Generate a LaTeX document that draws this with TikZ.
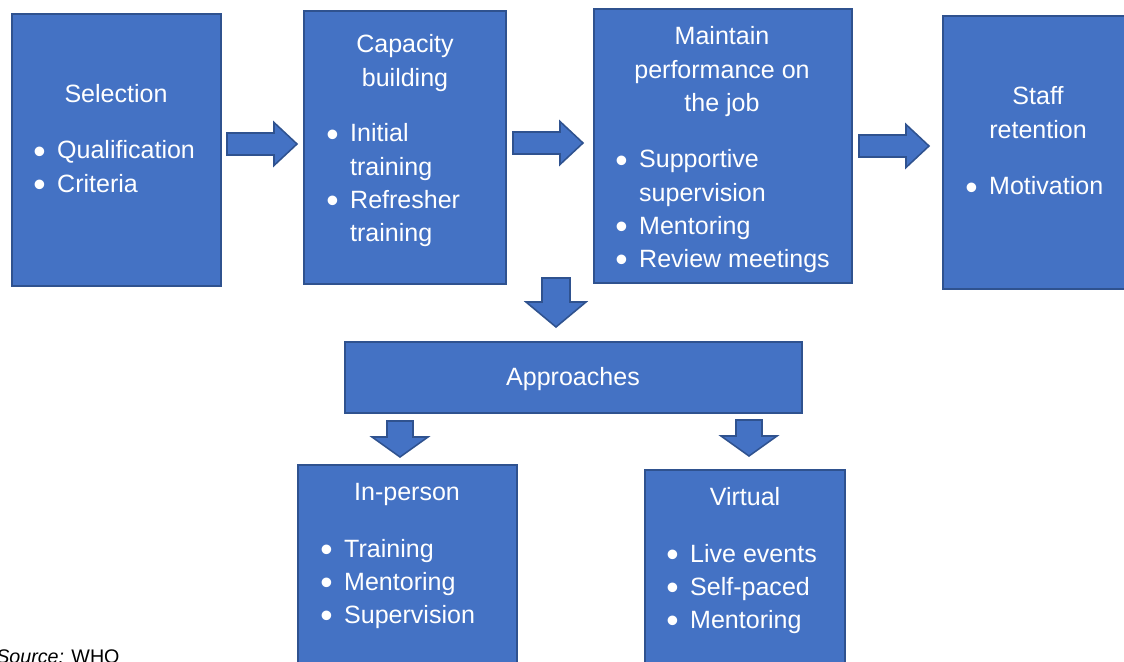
\documentclass[tikz,border=0pt]{standalone}
\usepackage{fontspec}
\setmainfont{Liberation Sans}
\usetikzlibrary{fit}

\definecolor{boxblue}{HTML}{4472C4}
\definecolor{boxline}{HTML}{2F528F}

\newcommand\boxfont{\fontsize{17.8}{23.5}\selectfont}
\newcommand\bul{\makebox[17pt][l]{\raisebox{-3.2pt}{\fontsize{25}{20}\selectfont\textbullet}}}
\newcommand\ind{\hspace*{17pt}}

\tikzset{
  box/.style={draw=boxline, fill=boxblue, line width=1.3pt, inner sep=0pt},
  blk/.style={draw=boxline, fill=boxblue, line width=1.1pt, line join=miter},
  txt/.style={text=white, font=\boxfont, inner sep=0pt, anchor=base},
  lst/.style={txt, anchor=base west},
  pics/rightblk/.style={code={
    \draw[blk] (-35,-11) -- (12,-11) -- (12,-21.5) -- (35,0) -- (12,21.5) -- (12,11) -- (-35,11) -- cycle;}},
  pics/downbig/.style={code={
    \draw[blk] (-14,-24) -- (14,-24) -- (14,0) -- (30,0) -- (0,25) -- (-30,0) -- (-14,0) -- cycle;}},
  pics/downsmall/.style={code={
    \draw[blk] (-13,-18) -- (13,-18) -- (13,-2) -- (28,-2) -- (0,18) -- (-28,-2) -- (-13,-2) -- cycle;}},
}

\begin{document}
\begin{tikzpicture}[x=0.025cm, y=-0.025cm]

\fill[white] (0,0) rectangle (1124,662);
\useasboundingbox (0,0) rectangle (1124,662);

% top row
\node[box, fit={(12,14) (221,286)}] (sel) {};
\node[box, fit={(304,11) (506,284)}] (cap) {};
\node[box, fit={(594,9) (852,283)}] (main) {};
\node[box, fit={(943,16) (1130,289)}] (staff) {};

\node[txt] (selT) at (116,103) {Selection};
\node[lst] (selL) at (33,159) {\begin{tabular}[t]{@{}l@{}}\bul Qualification\\ \bul Criteria\end{tabular}};

\node[txt] (capT) at (405,53) {\begin{tabular}[t]{@{}c@{}}Capacity\\ building\end{tabular}};
\node[lst] (capL) at (326,142) {\begin{tabular}[t]{@{}l@{}}\bul Initial\\ \ind training\\ \bul Refresher\\ \ind training\end{tabular}};

\node[txt] (mainT) at (722,45) {\begin{tabular}[t]{@{}c@{}}Maintain\\ performance on\\ the job\end{tabular}};
\node[lst] (mainL) at (615,168) {\begin{tabular}[t]{@{}l@{}}\bul Supportive\\ \ind supervision\\ \bul Mentoring\\ \bul Review meetings\end{tabular}};

\node[txt] (staffT) at (1038,105) {\begin{tabular}[t]{@{}c@{}}Staff\\ retention\end{tabular}};
\node[lst] (staffL) at (965,195) {\bul Motivation};

% arrows between
\pic at (262,144) {rightblk};
\pic at (548,143) {rightblk};
\pic at (894,146) {rightblk};
\pic at (556,302) {downbig};

% approaches
\node[box, fit={(345,342) (802,413)}] (appr) {};
\node[txt] (apprT) at (573,385) {Approaches};

\pic at (400,439) {downsmall};
\pic at (749,438) {downsmall};

\node[box, fit={(298,465) (517,668)}] (inp) {};
\node[txt] (inpT) at (407,500) {In-person};
\node[lst] (inpL) at (320,557) {\begin{tabular}[t]{@{}l@{}}\bul Training\\ \bul Mentoring\\ \bul Supervision\end{tabular}};

\node[box, fit={(645,470) (845,668)}] (virt) {};
\node[txt] (virtT) at (745,505) {Virtual};
\node[lst] (virtL) at (666,562) {\begin{tabular}[t]{@{}l@{}}\bul Live events\\ \bul Self-paced\\ \bul Mentoring\end{tabular}};

\node[anchor=base west, inner sep=0pt, font=\fontsize{14}{16}\selectfont] (src) at (-4,663) {\textit{Source:} WHO};

\end{tikzpicture}
\end{document}
